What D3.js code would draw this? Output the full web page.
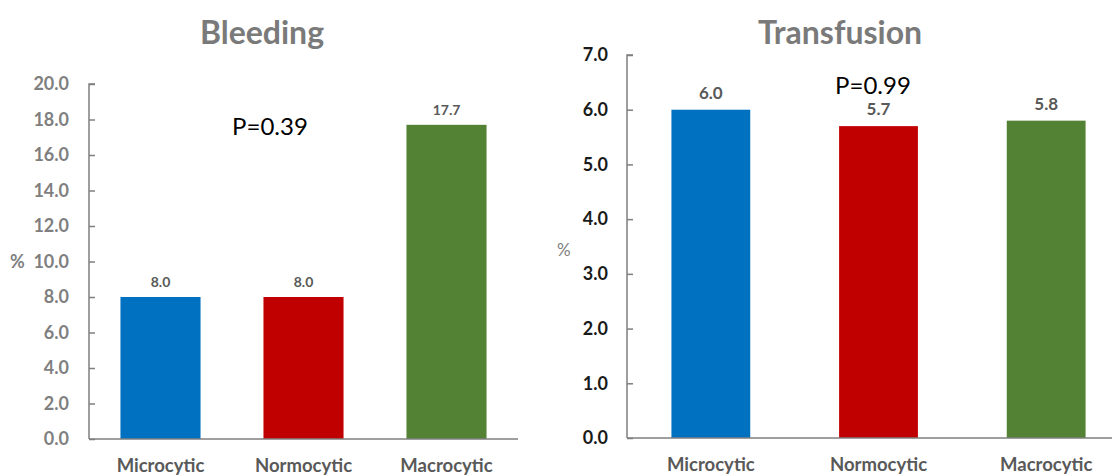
<!DOCTYPE html>
<html>
<head>
<meta charset="utf-8">
<script src="https://cdn.jsdelivr.net/npm/d3@7"></script>
<style>
  html, body { margin: 0; padding: 0; background: #fff; }
  svg { display: block; font-family: Lato, "Open Sans", sans-serif; }
</style>
</head>
<body>
<svg id="chart" width="1112" height="476"></svg>
<script>
// Anemia type categories and outcome rates (%)
const categories = ["Microcytic", "Normocytic", "Macrocytic"];
const barColors = ["#0070C0", "#C00000", "#548235"];
const bleedingValues = [8.0, 8.0, 17.7];
const transfusionValues = [6.0, 5.7, 5.8];
const bleedingTicks = [0, 2, 4, 6, 8, 10, 12, 14, 16, 18, 20];
const transfusionTicks = [0, 1, 2, 3, 4, 5, 6, 7];
const bleedingP = "P=0.39";
const transfusionP = "P=0.99";

const svg = d3.select("#chart");

function panel(opts) {
  const g = svg.append("g");
  const x = d3.scaleBand().domain(categories)
    .range([opts.x0, opts.x1]).paddingInner(opts.pad).paddingOuter(opts.pad / 2);
  const y = d3.scaleLinear().domain([0, d3.max(opts.ticks)]).range([opts.y0, opts.y1]);

  // bars
  g.selectAll("rect.bar").data(opts.values).enter().append("rect")
    .attr("class", "bar")
    .attr("x", (d, i) => x(categories[i]))
    .attr("width", x.bandwidth())
    .attr("y", d => y(d))
    .attr("height", d => y(0) - y(d))
    .attr("fill", (d, i) => barColors[i]);

  // value labels
  g.selectAll("text.val").data(opts.values).enter().append("text")
    .attr("x", (d, i) => x(categories[i]) + x.bandwidth() / 2)
    .attr("y", d => y(d) - opts.valGap)
    .attr("text-anchor", "middle")
    .attr("font-size", opts.valSize)
    .attr("font-weight", "bold")
    .attr("fill", "#595959")
    .text(d => d.toFixed(1));

  // y axis
  const ya = d3.axisRight(y).tickValues(opts.ticks).tickSize(6).tickFormat(d3.format(".1f"));
  const yg = g.append("g").attr("transform", `translate(${opts.x0},0)`).call(ya);
  yg.select(".domain").attr("stroke", "#7f7f7f").attr("stroke-width", 1.5)
    .attr("d", `M6,${opts.y1}H0V${opts.y0}`);
  yg.selectAll(".tick line").attr("stroke", "#7f7f7f").attr("stroke-width", 1.5);
  yg.selectAll(".tick text")
    .attr("x", -opts.labelGap).attr("text-anchor", "end")
    .attr("font-size", 18).attr("font-weight", "bold")
    .attr("font-family", "Lato, sans-serif")
    .attr("fill", opts.tickColor);

  // x axis
  const xa = d3.axisBottom(x).tickSize(0).tickPadding(20);
  const xg = g.append("g").attr("transform", `translate(0,${opts.y0})`).call(xa);
  xg.select(".domain").attr("stroke", "#7f7f7f").attr("stroke-width", 1.5)
    .attr("d", `M${opts.x0},0H${opts.x1}`);
  xg.selectAll(".tick text")
    .attr("font-size", 18.5).attr("font-weight", "bold")
    .attr("font-family", "Lato, sans-serif")
    .attr("fill", "#595959");

  // title
  g.append("text").attr("x", opts.titleX).attr("y", 44)
    .attr("text-anchor", "middle").attr("font-size", 32).attr("font-weight", "bold")
    .attr("fill", "#7a7a7a").text(opts.title);

  // y unit
  g.append("text").attr("x", opts.unitX).attr("y", opts.unitY)
    .attr("font-size", opts.unitSize).attr("font-weight", opts.unitWeight)
    .attr("fill", opts.unitColor).text("%");

  // p value
  g.append("text").attr("x", opts.pX).attr("y", opts.pY)
    .attr("text-anchor", "middle").attr("font-size", 24)
    .attr("fill", "#000").text(opts.p);
}

panel({
  x0: 89, x1: 518, y0: 439, y1: 84, pad: 0.44,
  values: bleedingValues, ticks: bleedingTicks, valSize: 14, valGap: 10,
  labelGap: 20, tickColor: "#7f7f7f",
  title: "Bleeding", titleX: 262,
  unitX: 10, unitY: 268, unitSize: 18, unitWeight: "bold", unitColor: "#7f7f7f",
  p: bleedingP, pX: 270, pY: 135
});

panel({
  x0: 627, x1: 1130, y0: 438, y1: 55, pad: 0.53,
  values: transfusionValues, ticks: transfusionTicks, valSize: 17, valGap: 11,
  labelGap: 19, tickColor: "#1a1a1a",
  title: "Transfusion", titleX: 840,
  unitX: 557, unitY: 256, unitSize: 17, unitWeight: "normal", unitColor: "#7f7f7f",
  p: transfusionP, pX: 873, pY: 94
});
</script>
</body>
</html>
